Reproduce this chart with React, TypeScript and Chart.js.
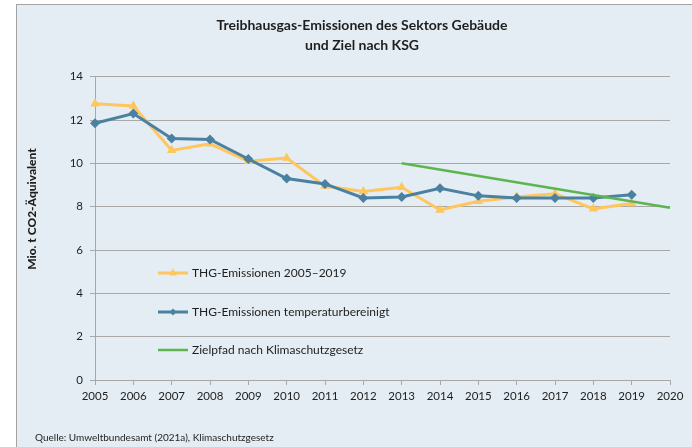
import React, { useEffect, useRef } from "react";
import { Chart, registerables } from "chart.js";

Chart.register(...registerables);

const years = ["2005","2006","2007","2008","2009","2010","2011","2012","2013","2014","2015","2016","2017","2018","2019","2020"];
const emissions = [12.75, 12.65, 10.6, 10.9, 10.1, 10.25, 8.95, 8.7, 8.9, 7.85, 8.25, 8.45, 8.6, 7.9, 8.15, null];
const adjusted = [11.85, 12.3, 11.15, 11.1, 10.2, 9.3, 9.05, 8.4, 8.45, 8.85, 8.5, 8.4, 8.4, 8.4, 8.55, null];
const targetPath = [null, null, null, null, null, null, null, null, 10.0, null, null, null, null, null, null, 7.95];
const yTicks = [0, 2, 4, 6, 8, 10, 12, 14];

const titleLines = ["Treibhausgas-Emissionen des Sektors Gebäude", "und Ziel nach KSG"];
const yTitle = "Mio. t CO2-Äquivalent";
const seriesNames = ["THG-Emissionen 2005–2019", "THG-Emissionen temperaturbereinigt", "Zielpfad nach Klimaschutzgesetz"];
const sourceText = "Quelle: Umweltbundesamt (2021a), Klimaschutzgesetz";

const YELLOW = "#ffc65e";
const BLUE = "#4a80a0";
const GREEN = "#5db54f";
const GRID = "#a8a8a8";
const TEXT = "#1e1e1e";
const FONT = "Lato";

const decorPlugin = {
  id: "decor",
  afterDraw(chart: any) {
    const ctx = chart.ctx;
    ctx.save();
    // title
    ctx.fillStyle = TEXT;
    ctx.font = `bold 14px ${FONT}`;
    ctx.textAlign = "center";
    ctx.textBaseline = "middle";
    ctx.fillText(titleLines[0], 362, 25);
    ctx.fillText(titleLines[1], 362, 45);
    // y title
    ctx.save();
    ctx.translate(32, 209);
    ctx.rotate(-Math.PI / 2);
    ctx.font = `900 12px ${FONT}`;
    ctx.fillText(yTitle, 0, 0);
    ctx.restore();
    // source
    ctx.font = `10px ${FONT}`;
    ctx.textAlign = "left";
    ctx.fillText(sourceText, 35, 438);
    // legend
    const items = [
      { color: YELLOW, style: "triangle", y: 273, w: 3 },
      { color: BLUE, style: "rectRot", y: 312, w: 3 },
      { color: GREEN, style: "none", y: 350, w: 2.5 },
    ];
    items.forEach((it, i) => {
      ctx.strokeStyle = it.color;
      ctx.lineWidth = it.w;
      ctx.beginPath();
      ctx.moveTo(158, it.y);
      ctx.lineTo(188, it.y);
      ctx.stroke();
      ctx.fillStyle = it.color;
      if (it.style === "triangle") {
        ctx.beginPath();
        ctx.moveTo(173, it.y - 4.5);
        ctx.lineTo(177, it.y + 2.5);
        ctx.lineTo(169, it.y + 2.5);
        ctx.closePath();
        ctx.fill();
      } else if (it.style === "rectRot") {
        ctx.beginPath();
        ctx.moveTo(173, it.y - 3.5);
        ctx.lineTo(176.5, it.y);
        ctx.lineTo(173, it.y + 3.5);
        ctx.lineTo(169.5, it.y);
        ctx.closePath();
        ctx.fill();
      }
      ctx.fillStyle = TEXT;
      ctx.font = `12px ${FONT}`;
      ctx.textAlign = "left";
      ctx.textBaseline = "middle";
      ctx.fillText(seriesNames[i], 192, it.y);
    });
    ctx.restore();
  },
};

export default function App() {
  const ref = useRef<HTMLCanvasElement>(null);
  useEffect(() => {
    if (!ref.current) return;
    const chart = new Chart(ref.current, {
      type: "line",
      data: {
        labels: years,
        datasets: [
          {
            label: seriesNames[0],
            data: emissions,
            borderColor: YELLOW,
            backgroundColor: YELLOW,
            borderWidth: 3,
            pointStyle: "triangle",
            pointRadius: 5.5,
            pointBorderWidth: 0,
            order: 2,
          },
          {
            label: seriesNames[1],
            data: adjusted,
            borderColor: BLUE,
            backgroundColor: BLUE,
            borderWidth: 3,
            pointStyle: "rectRot",
            pointRadius: 5,
            pointBorderWidth: 0,
            order: 1,
          },
          {
            label: seriesNames[2],
            data: targetPath,
            borderColor: GREEN,
            backgroundColor: GREEN,
            borderWidth: 2.5,
            pointRadius: 0,
            spanGaps: true,
            order: 0,
          },
        ],
      },
      options: {
        responsive: false,
        devicePixelRatio: 1,
        animation: false,
        layout: { padding: { left: 0, top: 76.7, right: 22, bottom: 37 } },
        plugins: { legend: { display: false }, tooltip: { enabled: false }, title: { display: false } },
        scales: {
          x: {
            type: "category",
            offset: false,
            grid: { drawOnChartArea: false, drawTicks: true, tickLength: 5, color: GRID },
            border: { color: GRID, width: 1 },
            ticks: { font: { family: FONT, size: 11.5 }, color: TEXT, padding: 4, maxRotation: 0, autoSkip: false },
            afterFit: (s: any) => { s.height = 30; },
          },
          y: {
            min: 0,
            max: 14,
            grid: { color: GRID, lineWidth: 1, drawTicks: true, tickLength: 5 },
            border: { color: GRID, width: 1 },
            afterBuildTicks: (s: any) => { s.ticks = yTicks.map((v) => ({ value: v })); },
            ticks: { font: { family: FONT, size: 11.5 }, color: TEXT, padding: 7 },
            afterFit: (s: any) => { s.width = 95; },
          },
        },
      },
      plugins: [decorPlugin],
    } as any);
    (document as any).fonts?.load?.(`bold 14px ${FONT}`).then(() => chart.update()).catch(() => {});
    return () => chart.destroy();
  }, []);
  return (
    <div style={{ position: "fixed", left: 0, top: 0, width: 692, height: 447, background: "#fff", overflow: "hidden" }}>
      <div
        style={{
          position: "absolute",
          left: 16,
          top: 4,
          width: 700,
          height: 460,
          background: "#e4edf3",
          borderLeft: "1.5px solid #a3a3a3",
          borderTop: "1.5px solid #a3a3a3",
          boxSizing: "border-box",
        }}
      />
      <canvas ref={ref} width={692} height={447} style={{ position: "absolute", left: 0, top: 0, width: 692, height: 447 }} />
    </div>
  );
}
